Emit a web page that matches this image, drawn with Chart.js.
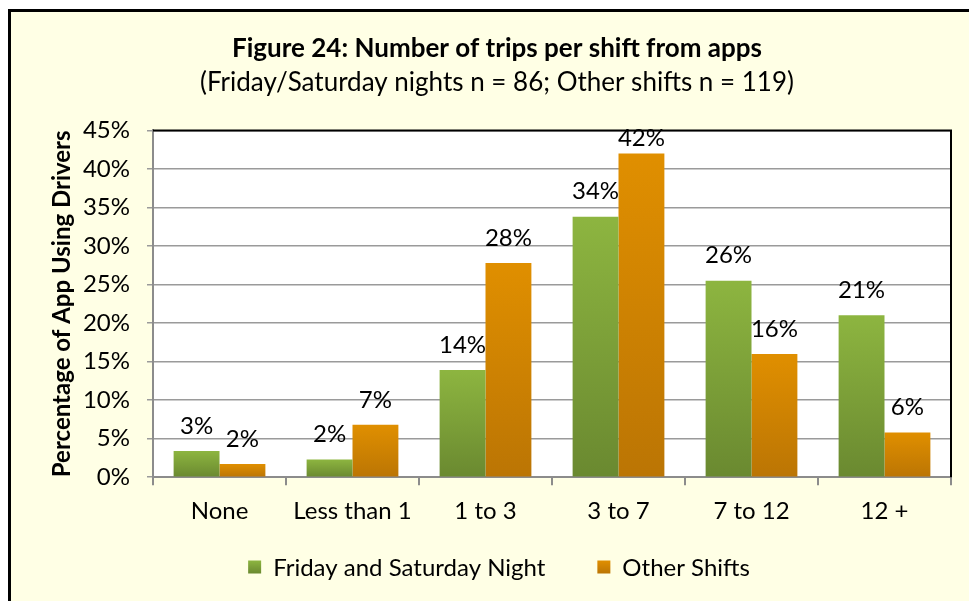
<!DOCTYPE html>
<html lang="en">
<head>
    <meta charset="UTF-8">
    <title>Figure 24</title>
    <script src="https://cdn.jsdelivr.net/npm/chart.js"></script>
    <style>
        body {
            margin: 0;
            background: #ffffff;
        }

        .frame {
            position: absolute;
            left: 8px;
            top: 9px;
            width: 958px;
            height: 589px;
            border-left: 3px solid #000;
            border-top: 3px solid #000;
            background: #ffffe5;
        }
    </style>
</head>
<body>

<div class="frame">
    <canvas id="chart" width="958" height="589"></canvas>
</div>

<script>
    // categories and values (percent)
    const categories = ["None", "Less than 1", "1 to 3", "3 to 7", "7 to 12", "12 +"];
    const fridaySaturday = [3.4, 2.3, 13.9, 33.8, 25.5, 21.0];
    const otherShifts = [1.7, 6.8, 27.8, 42.0, 16.0, 5.8];
    const yTicks = [0, 5, 10, 15, 20, 25, 30, 35, 40, 45];
    const seriesNames = ["Friday and Saturday Night", "Other Shifts"];

    const FONT = "Lato, 'Open Sans', sans-serif";
    Chart.defaults.font.family = FONT;
    Chart.defaults.color = "#000";

    const GREEN = ["#8db540", "#6a8930"];
    const ORANGE = ["#e08f00", "#bb7504"];

    // gradient from top of each bar down to the axis
    function barGradient(colors) {
        return function(context) {
            const chart = context.chart;
            if (context.type !== "data" || !chart.chartArea) return colors[1];
            const y = chart.scales.y;
            const y0 = y.getPixelForValue(context.raw);
            const y1 = y.getPixelForValue(0);
            if (!isFinite(y0) || y1 - y0 < 1) return colors[1];
            const g = chart.ctx.createLinearGradient(0, y0, 0, y1);
            g.addColorStop(0, colors[0]);
            g.addColorStop(1, colors[1]);
            return g;
        };
    }

    const plotFrame = {
        id: "plotFrame",
        beforeDraw(chart) {
            const a = chart.chartArea;
            const c = chart.ctx;
            c.save();
            c.fillStyle = "#ffffff";
            c.fillRect(a.left, a.top, a.right - a.left, a.bottom - a.top);
            c.restore();
        },
        afterDraw(chart) {
            const a = chart.chartArea;
            const c = chart.ctx;
            c.save();
            c.strokeStyle = "#000";
            c.lineWidth = 2;
            c.beginPath();
            c.moveTo(a.left, a.top);
            c.lineTo(a.right, a.top);
            c.lineTo(a.right, a.bottom);
            c.stroke();
            c.restore();
        }
    };

    // value labels above the bars
    const barLabels = {
        id: "barLabels",
        afterDatasetsDraw(chart) {
            const c = chart.ctx;
            const a = chart.chartArea;
            c.save();
            c.font = "24px " + FONT;
            c.fillStyle = "#000";
            c.textAlign = "center";
            c.textBaseline = "middle";
            chart.data.datasets.forEach((ds, i) => {
                chart.getDatasetMeta(i).data.forEach((bar, j) => {
                    const y = Math.max(bar.y - 25, a.top + 8);
                    c.fillText(Math.round(ds.data[j]) + "%", bar.x, y);
                });
            });
            c.restore();
        }
    };

    // legend under the axis, spaced like the original
    const bottomLegend = {
        id: "bottomLegend",
        afterDraw(chart) {
            const c = chart.ctx;
            const box = 13, gapText = 12, gapItem = 52;
            const y = 555;
            c.save();
            c.font = "24px " + FONT;
            c.textBaseline = "middle";
            c.textAlign = "left";
            const w = seriesNames.map(t => c.measureText(t).width);
            const total = 2 * (box + gapText) + w[0] + w[1] + gapItem;
            let x = 488 - total / 2;
            [GREEN, ORANGE].forEach((col, i) => {
                const g = c.createLinearGradient(0, y - box / 2, 0, y + box / 2);
                g.addColorStop(0, col[0]);
                g.addColorStop(1, col[1]);
                c.fillStyle = g;
                c.fillRect(x, y - box / 2, box, box);
                x += box + gapText;
                c.fillStyle = "#000";
                c.fillText(seriesNames[i], x, y + 1);
                x += w[i] + gapItem;
            });
            c.restore();
        }
    };

    new Chart(document.getElementById("chart"), {
        type: "bar",
        data: {
            labels: categories,
            datasets: [{
                label: seriesNames[0],
                data: fridaySaturday,
                backgroundColor: barGradient(GREEN),
                categoryPercentage: 0.69,
                barPercentage: 1.0
            }, {
                label: seriesNames[1],
                data: otherShifts,
                backgroundColor: barGradient(ORANGE),
                categoryPercentage: 0.69,
                barPercentage: 1.0
            }]
        },
        options: {
            responsive: false,
            animation: false,
            layout: {
                padding: { top: 0, right: 18, bottom: 63, left: 32 }
            },
            plugins: {
                title: {
                    display: true,
                    text: "Figure 24: Number of trips per shift from apps",
                    font: { size: 26, weight: "bold" },
                    padding: { top: 21, bottom: 3 }
                },
                subtitle: {
                    display: true,
                    text: "(Friday/Saturday nights n = 86; Other shifts n = 119)",
                    font: { size: 26 },
                    padding: { top: 0, bottom: 32 }
                },
                legend: { display: false },
                tooltip: { enabled: false }
            },
            scales: {
                x: {
                    grid: {
                        drawOnChartArea: false,
                        color: "#8c8c8c",
                        lineWidth: 2,
                        tickLength: 8
                    },
                    border: { color: "#8c8c8c", width: 2 },
                    ticks: { font: { size: 24 }, padding: 12 }
                },
                y: {
                    min: 0,
                    max: 45,
                    afterBuildTicks(scale) {
                        scale.ticks = yTicks.map(v => ({ value: v }));
                    },
                    afterFit(scale) {
                        scale.width = 110;
                    },
                    grid: {
                        color: "#9a9a9a",
                        lineWidth: 1.5,
                        tickLength: 6
                    },
                    border: { color: "#8c8c8c", width: 2 },
                    ticks: {
                        font: { size: 24 },
                        padding: 17,
                        callback: v => v + "%"
                    },
                    title: {
                        display: true,
                        text: "Percentage of App Using Drivers",
                        font: { size: 24, weight: "bold" },
                        padding: { top: 5, bottom: 0 }
                    }
                }
            }
        },
        plugins: [plotFrame, barLabels, bottomLegend]
    });
</script>

</body>
</html>
